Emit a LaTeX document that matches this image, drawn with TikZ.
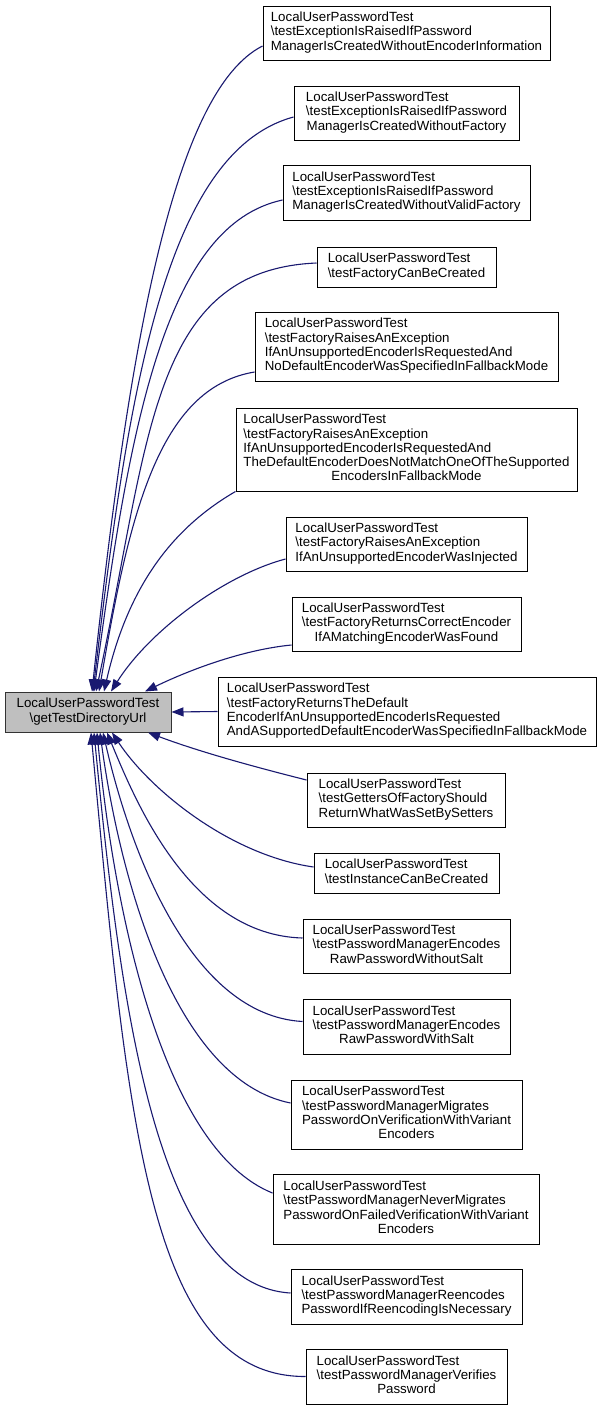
\documentclass[tikz,border=0pt]{standalone}
\usepackage{fontspec}
\setmainfont{Liberation Sans}
\usetikzlibrary{arrows.meta,calc}
\definecolor{edgeblue}{HTML}{191970}
\definecolor{maingray}{HTML}{BFBFBF}
\newcommand{\bs}{\textbackslash}
\newcommand{\boxtext}[2]{\begin{tabular}{@{}l@{}}#1\\\multicolumn{1}{@{}c@{}}{#2}\end{tabular}}
\tikzset{
  box/.style={draw=black, fill=white, line width=1pt, inner sep=0pt,
    font=\fontsize{13.3}{14.3}\selectfont},
  mainbox/.style={box, fill=maingray, draw=black!80},
  edge/.style={draw=edgeblue, line width=1.1pt,
    -{Triangle[length=12pt,width=9pt]}}
}
\begin{document}
\begin{tikzpicture}[x=1pt,y=-1pt]
\useasboundingbox (0,0) rectangle (600,1411);
\fill[white] (0,0) rectangle (600,1411);

\node[mainbox, minimum width=166pt, minimum height=40pt] (m) at (88,712)
  {\boxtext{LocalUserPasswordTest}{\bs getTestDirectoryUrl}};

\node[box, minimum width=287pt, minimum height=54pt] (b1) at (406.5,33)
  {\boxtext{LocalUserPasswordTest\\\bs testExceptionIsRaisedIfPassword}{ManagerIsCreatedWithoutEncoderInformation}};
\node[box, minimum width=225pt, minimum height=54pt] (b2) at (406.5,113)
  {\boxtext{LocalUserPasswordTest\\\bs testExceptionIsRaisedIfPassword}{ManagerIsCreatedWithoutFactory}};
\node[box, minimum width=247pt, minimum height=55pt] (b3) at (406.5,192.5)
  {\boxtext{LocalUserPasswordTest\\\bs testExceptionIsRaisedIfPassword}{ManagerIsCreatedWithoutValidFactory}};
\node[box, minimum width=179pt, minimum height=40pt] (b4) at (406.5,267)
  {\boxtext{LocalUserPasswordTest}{\bs testFactoryCanBeCreated}};
\node[box, minimum width=303pt, minimum height=69pt] (b5) at (406.5,346.5)
  {\boxtext{LocalUserPasswordTest\\\bs testFactoryRaisesAnException\\IfAnUnsupportedEncoderIsRequestedAnd}{NoDefaultEncoderWasSpecifiedInFallbackMode}};
\node[box, minimum width=341pt, minimum height=83pt] (b6) at (406.5,449.5)
  {\boxtext{LocalUserPasswordTest\\\bs testFactoryRaisesAnException\\IfAnUnsupportedEncoderIsRequestedAnd\\TheDefaultEncoderDoesNotMatchOneOfTheSupported}{EncodersInFallbackMode}};
\node[box, minimum width=241pt, minimum height=54pt] (b7) at (406.5,544)
  {\boxtext{LocalUserPasswordTest\\\bs testFactoryRaisesAnException}{IfAnUnsupportedEncoderWasInjected}};
\node[box, minimum width=229pt, minimum height=54pt] (b8) at (406.5,624)
  {\boxtext{LocalUserPasswordTest\\\bs testFactoryReturnsCorrectEncoder}{IfAMatchingEncoderWasFound}};
\node[box, minimum width=378pt, minimum height=69pt] (b9) at (407,711.5)
  {\boxtext{LocalUserPasswordTest\\\bs testFactoryReturnsTheDefault\\EncoderIfAnUnsupportedEncoderIsRequested}{AndASupportedDefaultEncoderWasSpecifiedInFallbackMode}};
\node[box, minimum width=198pt, minimum height=54pt] (b10) at (406,800)
  {\boxtext{LocalUserPasswordTest\\\bs testGettersOfFactoryShould}{ReturnWhatWasSetBySetters}};
\node[box, minimum width=185pt, minimum height=40pt] (b11) at (406.5,873)
  {\boxtext{LocalUserPasswordTest}{\bs testInstanceCanBeCreated}};
\node[box, minimum width=207pt, minimum height=54pt] (b12) at (406.5,946)
  {\boxtext{LocalUserPasswordTest\\\bs testPasswordManagerEncodes}{RawPasswordWithoutSalt}};
\node[box, minimum width=207pt, minimum height=55pt] (b13) at (406.5,1026.5)
  {\boxtext{LocalUserPasswordTest\\\bs testPasswordManagerEncodes}{RawPasswordWithSalt}};
\node[box, minimum width=231pt, minimum height=69pt] (b14) at (406.5,1114.5)
  {\boxtext{LocalUserPasswordTest\\\bs testPasswordManagerMigrates\\PasswordOnVerificationWithVariant}{Encoders}};
\node[box, minimum width=266pt, minimum height=70pt] (b15) at (406,1209)
  {\boxtext{LocalUserPasswordTest\\\bs testPasswordManagerNeverMigrates\\PasswordOnFailedVerificationWithVariant}{Encoders}};
\node[box, minimum width=231pt, minimum height=55pt] (b16) at (406.5,1296.5)
  {\boxtext{LocalUserPasswordTest\\\bs testPasswordManagerReencodes}{PasswordIfReencodingIsNecessary}};
\node[box, minimum width=201pt, minimum height=55pt] (b17) at (406.5,1376.5)
  {\boxtext{LocalUserPasswordTest\\\bs testPasswordManagerVerifies}{Password}};

% edges into the top of the main node
\draw[edge] ($(b1.west)+(0,13)$) .. controls (174,91) and (129,342) .. ($(m.north)+(4,0)$);
\draw[edge] ($(b2.west)+(0,4)$) .. controls (165,152) and (128,392) .. ($(m.north)+(5,0)$);
\draw[edge] ($(b3.west)+(0,7.5)$) .. controls (166,225) and (130,421) .. ($(m.north)+(6,0)$);
\draw[edge] ($(b4.west)+(0,-4)$) .. controls (150,270) and (150,440) .. ($(m.north)+(8,0)$);
\draw[edge] ($(b5.west)+(0,25.5)$) .. controls (158,388) and (129,516) .. ($(m.north)+(11,0)$);
\draw[edge] (b6.south west) .. controls (176,526) and (129,582) .. ($(m.north)+(16,0)$);
\draw[edge] ($(b7.west)+(0,15)$) .. controls (225,575) and (150,630) .. ($(m.north)+(23,0)$);
\draw[edge] ($(b8.west)+(0,21)$) .. controls (240,650) and (185,672) .. ($(m.north)+(57,0)$);
% straight edge
\draw[edge] (b9.west) -- (m.east);
% edges into the bottom of the main node
\draw[edge] ($(b10.west)+(0,-20)$) .. controls (255,767) and (200,752) .. ($(m.south)+(60,0)$);
\draw[edge] ($(b11.west)+(0,-6)$) .. controls (230,855) and (150,790) .. ($(m.south)+(24,0)$);
\draw[edge] ($(b12.west)+(0,-8)$) .. controls (190,935) and (135,800) .. ($(m.south)+(19,0)$);
\draw[edge] ($(b13.west)+(0,-5)$) .. controls (190,1015) and (130,850) .. ($(m.south)+(15,0)$);
\draw[edge] ($(b14.west)+(0,-11.5)$) .. controls (175,1080) and (120,880) .. ($(m.south)+(12,0)$);
\draw[edge] ($(b15.west)+(0,-16)$) .. controls (165,1150) and (115,920) .. ($(m.south)+(9,0)$);
\draw[edge] ($(b16.west)+(0,-3.5)$) .. controls (155,1285) and (120,1000) .. ($(m.south)+(6,0)$);
\draw[edge] (b17.west) .. controls (150,1377) and (128,1130) .. ($(m.south)+(3,0)$);
\end{tikzpicture}
\end{document}
